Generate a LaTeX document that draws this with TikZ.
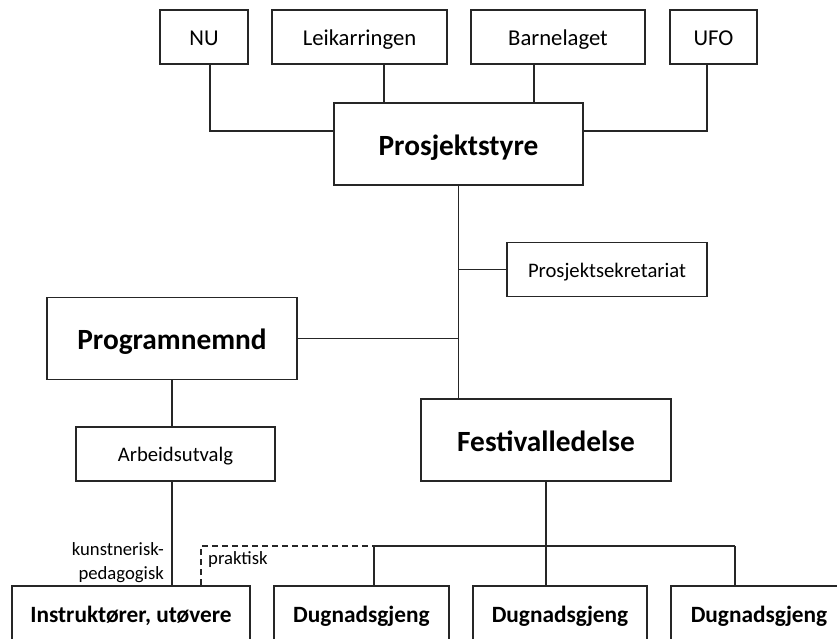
\documentclass[tikz,border=0pt]{standalone}
\usepackage{fontspec}
\setmainfont{Carlito}

\begin{document}
\begin{tikzpicture}[x=0.75pt, y=-0.75pt, line width=1.3pt,
  box/.style={draw=black!85, inner sep=0pt},
  topbox/.style={box, minimum height=40.5pt, text height=15pt, text depth=1.8pt, font=\fontsize{17}{20}\selectfont},
  midbox/.style={box, minimum height=40.5pt, text height=13pt, text depth=1.5pt, font=\fontsize{15.5}{19}\selectfont},
  headbox/.style={box, minimum width=187.5pt, minimum height=61.5pt, text height=19pt, text depth=2.5pt, font=\bfseries\fontsize{22}{26}\selectfont},
  unitbox/.style={box, minimum height=48pt, text height=13pt, text depth=6.3pt, font=\bfseries\fontsize{17.5}{21}\selectfont},
  link/.style={draw=black!85},
  note/.style={inner sep=1pt, font=\fontsize{14}{18}\selectfont}]

  \clip (0,0) rectangle (837,638);

  % Member organisations on top
  \node[topbox, minimum width=66pt]     (nu)   at (204,37)   {NU};
  \node[topbox, minimum width=131.25pt] (leik) at (359.5,37) {Leikarringen};
  \node[topbox, minimum width=130.5pt]  (barn) at (558,37)   {Barnelaget};
  \node[topbox, minimum width=65.25pt]  (ufo)  at (713.5,37) {UFO};

  % Main boxes
  \node[headbox, minimum width=186.75pt] (styre) at (458.5,144) {Prosjektstyre};
  \node[midbox, minimum width=150pt]     (sekr)  at (607,269.5) {Prosjektsekretariat};
  \node[headbox] (prog) at (172,338.5) {Programnemnd};
  \node[midbox, minimum width=149.25pt]  (arb)   at (175.5,454) {Arbeidsutvalg};
  \node[headbox] (fest) at (546,440) {Festivalledelse};

  % Bottom row (cut off by the page edge)
  \node[unitbox, minimum width=178.5pt]  (instr) at (131,618)   {Instruktører, utøvere};
  \node[unitbox, minimum width=131.25pt] (dug1)  at (361.5,618) {Dugnadsgjeng};
  \node[unitbox, minimum width=130.5pt]  (dug2)  at (560,618)   {Dugnadsgjeng};
  \node[unitbox, minimum width=132pt]    (dug3)  at (759,618)   {Dugnadsgjeng};

  % Member organisations to Prosjektstyre
  \draw[link] ([xshift=4.5pt]nu.south) |- ([yshift=9.75pt]styre.west);
  \draw[link] ([xshift=18.4pt]leik.south) -- ([xshift=18.4pt]leik.south |- styre.north);
  \draw[link] ([xshift=-18pt]barn.south) -- ([xshift=-18pt]barn.south |- styre.north);
  \draw[link] ([xshift=-4.9pt]ufo.south) |- ([yshift=9.75pt]styre.east);

  % Trunk with side branches
  \draw[link] (styre.south) -- (styre.south |- fest.north);
  \draw[link] (sekr.west) -- (sekr.west -| styre.south);
  \draw[link] (prog.east) -- (prog.east -| styre.south);

  % Programnemnd branch
  \draw[link] (prog.south) -- (prog.south |- arb.north);
  \draw[link] (arb.south -| prog.south) -- (instr.north -| prog.south);

  % Festivalledelse branch
  \coordinate (busl) at (374,546);
  \coordinate (busr) at (735,546);
  \draw[link] (busl) -- (busr);
  \draw[link] (fest.south) -- (fest.south |- dug2.north);
  \draw[link] (busl) -- (busl |- dug1.north);
  \draw[link] (busr) -- (busr |- dug3.north);
  \draw[link, dash pattern=on 4.5pt off 3pt] ([xshift=52.5pt]instr.north) |- (busl);

  % Labels on the two lines
  \node[note, anchor=east, align=right] (kunst) at (166,563) {kunstnerisk-\\pedagogisk};
  \node[note, anchor=west] (prakt) at (206,559.5) {praktisk};

\end{tikzpicture}
\end{document}
